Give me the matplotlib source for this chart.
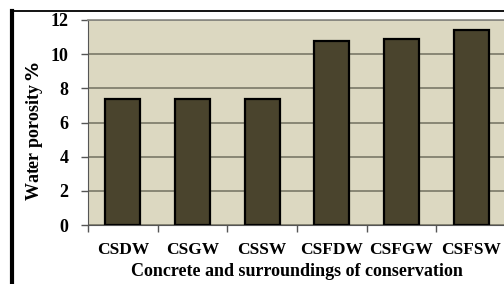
import numpy as np
import matplotlib.pyplot as plt
from matplotlib.lines import Line2D

categories = ['CSDW', 'CSGW', 'CSSW', 'CSFDW', 'CSFGW', 'CSFSW']
porosity = [7.4, 7.4, 7.4, 10.8, 10.9, 11.4]
yticks = [0, 2, 4, 6, 8, 10, 12]

plt.rcParams['font.family'] = 'Liberation Serif'
plt.rcParams['font.weight'] = 'bold'

fig = plt.figure(figsize=(5.04, 2.84), dpi=100)
ax = fig.add_axes([88 / 504, 59 / 284, 418 / 504, 205 / 284])
ax.set_facecolor('#dcd8c1')

x = np.arange(len(categories))
ax.bar(x, porosity, width=0.5, color='#4a442d', edgecolor='black', linewidth=1.6, zorder=3)

ax.set_xlim(-0.5, len(categories) - 0.5)
ax.set_ylim(0, 12)
ax.set_yticks(yticks)
ax.set_yticklabels([str(v) for v in yticks], fontsize=13, fontweight='bold')
ax.set_xticks(x)
ax.set_xticklabels(categories, fontsize=12.5, fontweight='bold')
ax.set_xticks(np.arange(-0.5, len(categories), 1.0), minor=True)
ax.tick_params(axis='x', which='major', length=0, pad=12)
ax.tick_params(axis='x', which='minor', length=5, color='#555555', width=1)
ax.tick_params(axis='y', length=5, color='#555555', width=1, pad=9)
ax.yaxis.grid(True, color='#7a7868', linewidth=1.2, zorder=1)

for side in ['top', 'right']:
    ax.spines[side].set_color('#8a8a84')
    ax.spines[side].set_linewidth(1.2)
ax.spines['left'].set_color('#555555')
ax.spines['bottom'].set_color('#555555')

ax.set_xlabel('Concrete and surroundings of conservation', fontsize=13, fontweight='bold', labelpad=4)
ax.set_ylabel('Water porosity $\\it{\\%}$', fontsize=13, fontweight='bold')
ax.yaxis.set_label_coords(-0.104, 0.46)

# outer frame (cut at the right and bottom)
fig.add_artist(Line2D([12 / 504, 12 / 504], [0, 1 - 11 / 284], color='black', linewidth=3, transform=fig.transFigure))
fig.add_artist(Line2D([11 / 504, 1], [1 - 11 / 284, 1 - 11 / 284], color='black', linewidth=1.3, transform=fig.transFigure))

fig.savefig('out.png', dpi=100)
